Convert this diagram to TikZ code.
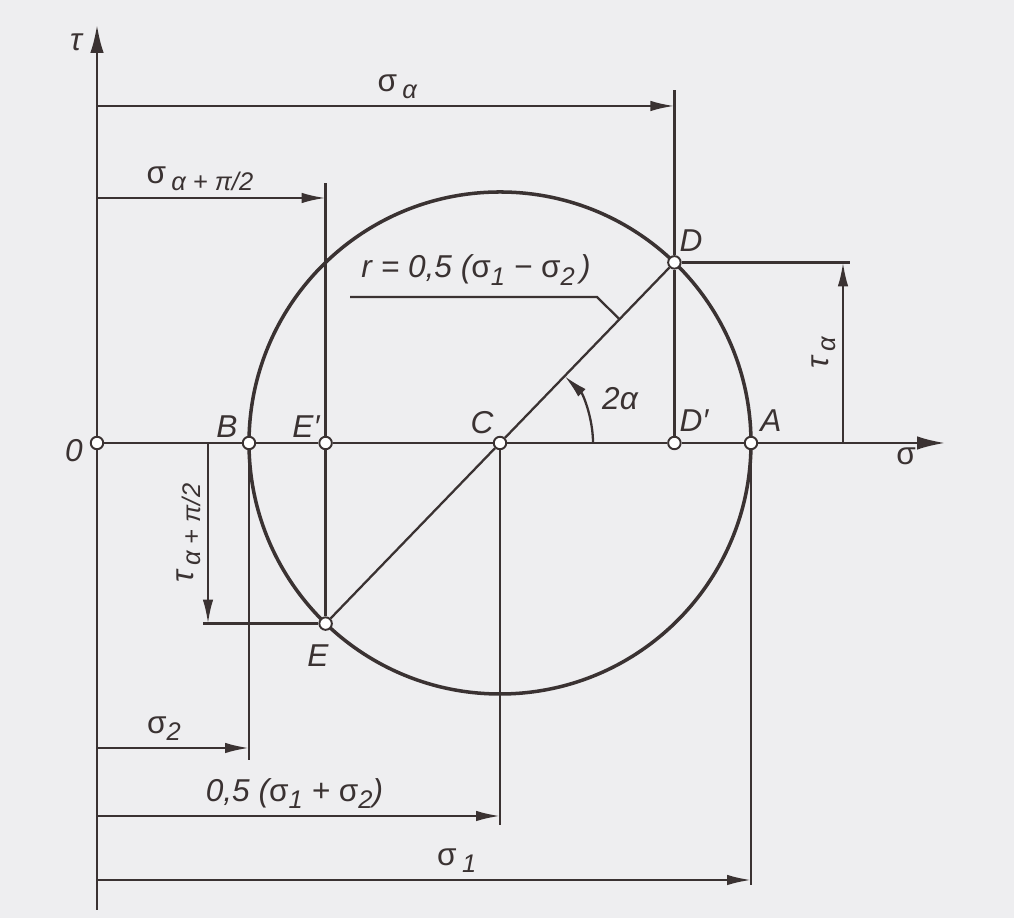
\documentclass[tikz,border=0pt]{standalone}
\usepackage{fontspec}
\setmainfont{Liberation Sans}
\usetikzlibrary{arrows.meta}
\definecolor{ink}{RGB}{58,50,50}
\definecolor{paper}{RGB}{238,238,240}
\newcommand\sg{{\upshape σ}}
\newcommand\lowidx[1]{\raisebox{-0.45ex}{\fontsize{14.5}{16}\selectfont #1}}

\begin{document}
\begin{tikzpicture}[x=0.02cm, y=0.02cm, color=ink, line width=1.3pt,
	pnt/.style={circle, draw, fill=white, line width=1.1pt, inner sep=0pt, minimum size=0.25cm},
	dim/.style={-{Latex[length=0.48cm, width=0.21cm]}},
	axis/.style={-{Latex[length=0.56cm, width=0.27cm]}},
	lbl/.style={font=\itshape\fontsize{18}{20}\selectfont}]
	\useasboundingbox (0,0) rectangle (1014,918);
	\fill[paper] (0,0) rectangle (1014,918);
	
	% Mohr circle
	\draw[line width=2pt] (500,475) circle[radius=251];
	
	% points on the sigma axis and on the circle
	\node[pnt] (O) at (97,475) {};
	\node[pnt] (B) at (249,475) {};
	\node[pnt] (Ep) at (325.6,475) {};
	\node[pnt] (C) at (500,475) {};
	\node[pnt] (Dp) at (674.4,475) {};
	\node[pnt] (A) at (751,475) {};
	\node[pnt] (D) at (674.4,655.6) {};
	\node[pnt] (E) at (325.6,294.4) {};
	
	\node[lbl] (lbO) at (74,467) {0};
	\node[lbl] (lbB) at (227,491) {B};
	\node[lbl] (lbEp) at (306,491) {E′};
	\node[lbl] (lbC) at (482,495) {C};
	\node[lbl] (lbDp) at (694,497) {D′};
	\node[lbl] (lbA) at (771,497) {A};
	\node[lbl] (lbD) at (691,677) {D};
	\node[lbl] (lbE) at (318,262) {E};
	
	% axes
	\coordinate (sig) at (945,475);
	\coordinate (tautop) at (97,893);
	\coordinate (taubot) at (97,8);
	\draw (O) -- (B);
	\draw (B) -- (Ep);
	\draw (Ep) -- (C);
	\draw (C) -- (Dp);
	\draw (Dp) -- (A);
	\draw[axis] (A) -- (sig);
	\draw (taubot) -- (O);
	\draw[axis] (O) -- (tautop);
	\node[lbl] (lbsig) at (906,462) {\sg};
	\node[lbl] (lbtau) at (76,876) {τ};
	
	% diameter DE
	\draw (E) -- (C);
	\draw (C) -- (D);
	
	% extension lines
	\coordinate (Dtop) at (674.4,828);
	\coordinate (Etop) at (325.6,735);
	\coordinate (Dright) at (850,655.6);
	\coordinate (Eleft) at (203,294.4);
	\coordinate (Bbot) at (249,158);
	\coordinate (Cbot) at (500,93);
	\coordinate (Abot) at (751,33);
	\draw (Dp) -- (D);
	\draw (D) -- (Dtop);
	\draw (E) -- (Ep);
	\draw (Ep) -- (Etop);
	\draw (D) -- (Dright);
	\draw (E) -- (Eleft);
	\draw (B) -- (Bbot);
	\draw (C) -- (Cbot);
	\draw (A) -- (Abot);
	
	% dimensions
	\coordinate (sa0) at (97,812);
	\coordinate (sa1) at (674.4,812);
	\coordinate (sb0) at (97,720);
	\coordinate (sb1) at (325.6,720);
	\coordinate (s20) at (97,170);
	\coordinate (s21) at (249,170);
	\coordinate (sm0) at (97,102);
	\coordinate (sm1) at (500,102);
	\coordinate (s10) at (97,38);
	\coordinate (s11) at (751,38);
	\coordinate (ta0) at (843,475);
	\coordinate (ta1) at (843,655.6);
	\coordinate (tb0) at (208,475);
	\coordinate (tb1) at (208,294.4);
	\draw[dim] (sa0) -- node[lbl, above, pos=0.52] {\sg\,\lowidx{α}} (sa1);
	\draw[dim] (sb0) -- node[lbl, above, pos=0.45] {\sg\,\lowidx{α + π/2}} (sb1);
	\draw[dim] (s20) -- node[lbl, above, pos=0.44] {\sg\lowidx{2}} (s21);
	\draw[dim] (sm0) -- node[lbl, above, pos=0.49] {0,5 (\sg\lowidx{1} + \sg\lowidx{2})} (sm1);
	\draw[dim] (s10) -- node[lbl, above, pos=0.55] {\sg\,\lowidx{1}} (s11);
	\draw[dim] (ta0) -- node[lbl, above, rotate=90] {τ\,\lowidx{α}} (ta1);
	\draw[dim] (tb0) -- node[lbl, above, rotate=90] {τ\,\lowidx{α + π/2}} (tb1);
	
	% angle 2alpha
	\coordinate (arc0) at (593,475);
	\draw[dim] (arc0) arc[start angle=0, end angle=46, radius=93];
	\node[lbl] (lbarc) at (620,519) {2α};
	
	% radius label with leader
	\node[lbl] (rlab) at (476,648) {r = 0,5 (\sg\lowidx{1} − \sg\lowidx{2}\,)};
	\coordinate (rl0) at (350,621);
	\coordinate (rl1) at (597,621);
	\coordinate (rl2) at (619.5,598.7);
	\draw (rl0) -- (rl1) -- (rl2);
\end{tikzpicture}
\end{document}
